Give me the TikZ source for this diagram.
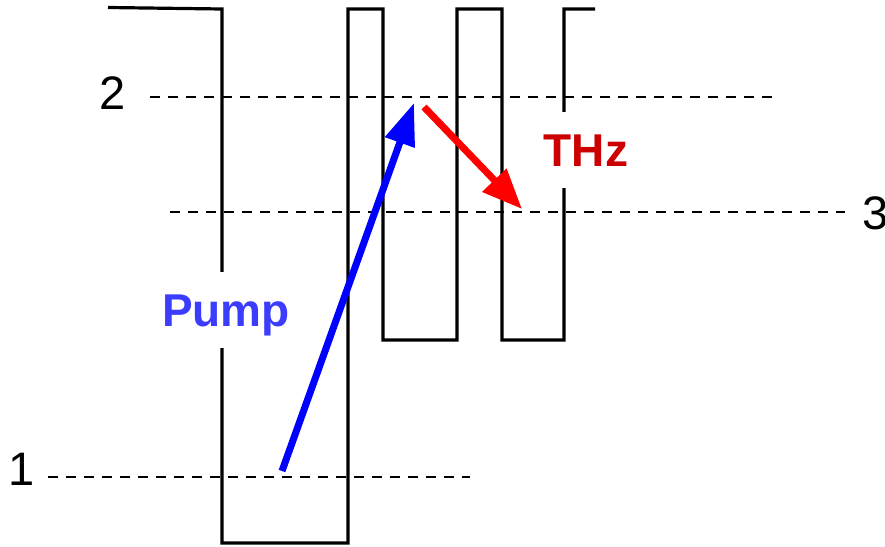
\documentclass[tikz,border=0pt]{standalone}
\usepackage{fontspec}
\setmainfont{Liberation Sans}
\usetikzlibrary{arrows.meta}
\definecolor{pumpblue}{RGB}{60,60,255}
\definecolor{thzred}{RGB}{204,0,0}
\tikzset{
  profile/.style={line width=3.2pt, line join=miter},
  level/.style={line width=2.3pt, dash pattern=on 10pt off 8pt},
  lvl/.style={font=\fontsize{47}{50}\selectfont, text height=34pt, text depth=0pt, inner sep=0pt},
  tag/.style={font=\fontsize{46}{50}\selectfont\bfseries, text height=33pt, text depth=0pt, inner xsep=2pt, inner ysep=21.5pt, fill=white},
  pumparrow/.style={line width=7pt, blue, -{Triangle[length=42pt,width=30pt]}},
  thzarrow/.style={line width=7pt, red, -{Triangle[length=40pt,width=32pt]}}
}
\begin{document}
\begin{tikzpicture}[x=1pt,y=-1pt]
\useasboundingbox (0,0) rectangle (885,546);
% potential profile
\draw[profile] (108,7.5) -- (222,9) -- (222,543) -- (348,543) -- (348,9) -- (383,9) -- (383,340)
  -- (457,340) -- (457,9) -- (502,9) -- (502,340) -- (564,340) -- (564,9) -- (595,9);
% levels
\coordinate (l2a) at (150,97); \coordinate (l2b) at (776,97);
\coordinate (l3a) at (170,212); \coordinate (l3b) at (845,212);
\coordinate (l1a) at (48,477); \coordinate (l1b) at (470,477);
\draw[level] (l2a) -- (l2b);
\draw[level] (l3a) -- (l3b);
\draw[level] (l1a) -- (l1b);
\node[lvl] (n2) at (113,92.5) {2};
\node[lvl] (n1) at (22,468.5) {1};
\node[lvl] (n3) at (876,212) {3};
% labels
\node[tag, text=pumpblue] (pump) at (226,310) {Pump};
\node[tag, text=thzred] (thz) at (586,150) {THz};
% transitions
\coordinate (p0) at (282,471);
\coordinate (p1) at (414,103);
\coordinate (t0) at (424,107);
\coordinate (t1) at (522,209);
\draw[pumparrow] (p0) -- (p1);
\draw[thzarrow] (t0) -- (t1);
\end{tikzpicture}
\end{document}
